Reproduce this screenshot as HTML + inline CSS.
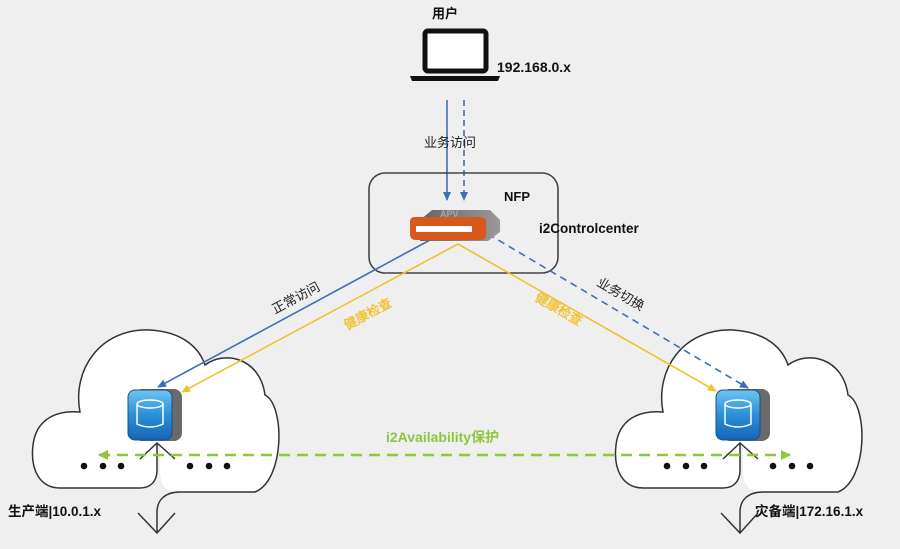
<!DOCTYPE html>
<html><head><meta charset="utf-8"><style>
html,body{margin:0;padding:0;background:#efefef;}
svg{display:block;font-family:"Liberation Sans","Noto Sans CJK SC",sans-serif;}
</style></head><body>
<svg width="900" height="549" viewBox="0 0 900 549" xmlns="http://www.w3.org/2000/svg">
<defs>
<marker id="ab" markerWidth="10" markerHeight="10" refX="8" refY="5" orient="auto" markerUnits="userSpaceOnUse"><path d="M0,1 L9,5 L0,9 z" fill="#3f6fb5"/></marker>
<marker id="ay" markerWidth="10" markerHeight="10" refX="8" refY="5" orient="auto" markerUnits="userSpaceOnUse"><path d="M0,1 L9,5 L0,9 z" fill="#f2c12e"/></marker>
<marker id="ag" markerWidth="12" markerHeight="12" refX="9" refY="6" orient="auto" markerUnits="userSpaceOnUse"><path d="M0,1 L10,6 L0,11 z" fill="#8dc63f"/></marker>
<marker id="ag2" markerWidth="12" markerHeight="12" refX="1" refY="6" orient="auto" markerUnits="userSpaceOnUse"><path d="M10,1 L0,6 L10,11 z" fill="#8dc63f"/></marker>
<linearGradient id="blu" x1="0" y1="0" x2="0" y2="1"><stop offset="0" stop-color="#6fc3f2"/><stop offset="0.5" stop-color="#2b8fd8"/><stop offset="1" stop-color="#1565b5"/></linearGradient>
<linearGradient id="gr" x1="0" y1="0" x2="1" y2="0"><stop offset="0" stop-color="#666"/><stop offset="1" stop-color="#999"/></linearGradient>
<g id="cloud">
<path d="M140,488 L60,488 C40,488 30,470 33,445 C36,420 55,410 80,412 C72,370 100,328 150,330 C185,332 200,350 205,365 C225,350 260,358 265,395 C285,405 285,480 255,492 L180,492 C168,492 160,488 160,470 L160,445 L157,445 L157,470 C157,482 150,488 140,488 z" fill="#fff" stroke="none"/>
<path d="M140,488 L60,488 C40,488 30,470 33,445 C36,420 55,410 80,412 C72,370 100,328 150,330 C185,332 200,350 205,365 C225,350 260,358 265,395 C285,405 285,480 255,492 L180,492" fill="none" stroke="#333" stroke-width="1.5"/>
<path d="M140,488 C150,488 157,482 157,470 L157,443 M157,533 L157,512 C157,500 165,492 180,492" fill="none" stroke="#333" stroke-width="1.5"/>
<path d="M140,459 L157,443 L175,459 M138,513 L157,533 L175,513" fill="none" stroke="#333" stroke-width="1.5"/>
</g>
</defs>
<rect width="900" height="549" fill="#efefef"/>

<use href="#cloud"/>
<use href="#cloud" transform="translate(583,0)"/>

<!-- Laptop -->
<rect x="425" y="31" width="61" height="40" rx="3" fill="#fff" stroke="#111" stroke-width="5"/>
<path d="M410,76 L500,76 L498,81 L412,81 z" fill="#111"/>
<text x="432" y="18" font-size="13" font-weight="bold" fill="#111">用户</text>
<text x="497" y="72" font-size="14" font-weight="bold" fill="#111">192.168.0.x</text>

<line x1="447" y1="100" x2="447" y2="200" stroke="#3f6fb5" stroke-width="1.6" marker-end="url(#ab)"/>
<line x1="464" y1="100" x2="464" y2="200" stroke="#3f6fb5" stroke-width="1.6" stroke-dasharray="6,4" marker-end="url(#ab)"/>
<text x="424" y="147" font-size="13" fill="#222">业务访问</text>

<rect x="369" y="173" width="189" height="100" rx="16" fill="none" stroke="#444" stroke-width="1.6"/>
<text x="504" y="201" font-size="13" font-weight="bold" fill="#111">NFP</text>
<text x="539" y="233" font-size="13.5" font-weight="bold" fill="#111">i2Controlcenter</text>

<line x1="430" y1="240" x2="158" y2="387" stroke="#3f6fb5" stroke-width="1.6" marker-end="url(#ab)"/>
<line x1="458" y1="244" x2="182" y2="392" stroke="#f2c12e" stroke-width="1.6" marker-end="url(#ay)"/>
<line x1="458" y1="244" x2="716" y2="391" stroke="#f2c12e" stroke-width="1.6" marker-end="url(#ay)"/>
<line x1="488" y1="234" x2="748" y2="388" stroke="#3f6fb5" stroke-width="1.6" stroke-dasharray="7,5" marker-end="url(#ab)"/>

<path d="M420,220 L432,210 L490,210 L500,220 L500,232 L488,241 L420,241 z" fill="url(#gr)"/>
<path d="M410,222 C410,218 412,217 416,217 L480,217 C484,217 486,219 486,222 L486,234 C486,238 484,240 480,240 L416,240 C412,240 410,238 410,234 z" fill="#d9581e"/>
<rect x="416" y="226" width="56" height="6" fill="#fff"/>
<text x="440" y="217" font-size="9" fill="#aaa" font-weight="bold">APV</text>

<text transform="translate(275,314) rotate(-28)" font-size="13" fill="#222">正常访问</text>
<text transform="translate(347,330) rotate(-28)" font-size="13" fill="#f2c12e" stroke="#f2c12e" stroke-width="0.4">健康检查</text>
<text transform="translate(534,300) rotate(30)" font-size="13" fill="#f2c12e" stroke="#f2c12e" stroke-width="0.4">健康检查</text>
<text transform="translate(596,285) rotate(30)" font-size="13" fill="#222">业务切换</text>

<g>
<rect x="134" y="389" width="48" height="52" rx="8" fill="#6a6a6a"/>
<rect x="128" y="390" width="44" height="50" rx="7" fill="url(#blu)" stroke="#1a4f8a" stroke-width="1"/>
<ellipse cx="150" cy="404" rx="13" ry="4" fill="none" stroke="#fff" stroke-width="1.5"/>
<path d="M137,404 L137,424 C145,428 155,428 163,424 L163,404" fill="none" stroke="#fff" stroke-width="1.5"/>
</g>
<g transform="translate(588,0)">
<rect x="134" y="389" width="48" height="52" rx="8" fill="#6a6a6a"/>
<rect x="128" y="390" width="44" height="50" rx="7" fill="url(#blu)" stroke="#1a4f8a" stroke-width="1"/>
<ellipse cx="150" cy="404" rx="13" ry="4" fill="none" stroke="#fff" stroke-width="1.5"/>
<path d="M137,404 L137,424 C145,428 155,428 163,424 L163,404" fill="none" stroke="#fff" stroke-width="1.5"/>
</g>

<line x1="99" y1="455" x2="790" y2="455" stroke="#8dc63f" stroke-width="2.5" stroke-dasharray="11,7" marker-start="url(#ag2)" marker-end="url(#ag)"/>
<text x="386" y="442" font-size="14" font-weight="bold" fill="#8dc63f">i2Availability保护</text>

<g fill="#111">
<circle cx="84" cy="466" r="3.3"/><circle cx="103" cy="466" r="3.3"/><circle cx="121" cy="466" r="3.3"/>
<circle cx="190" cy="466" r="3.3"/><circle cx="209" cy="466" r="3.3"/><circle cx="227" cy="466" r="3.3"/>
<circle cx="667" cy="466" r="3.3"/><circle cx="686" cy="466" r="3.3"/><circle cx="704" cy="466" r="3.3"/>
<circle cx="773" cy="466" r="3.3"/><circle cx="792" cy="466" r="3.3"/><circle cx="810" cy="466" r="3.3"/>
</g>

<text x="8" y="516" font-size="13.5" font-weight="bold" fill="#111">生产端|10.0.1.x</text>
<text x="755" y="516" font-size="13.5" font-weight="bold" fill="#111">灾备端|172.16.1.x</text>
</svg>
</body></html>
